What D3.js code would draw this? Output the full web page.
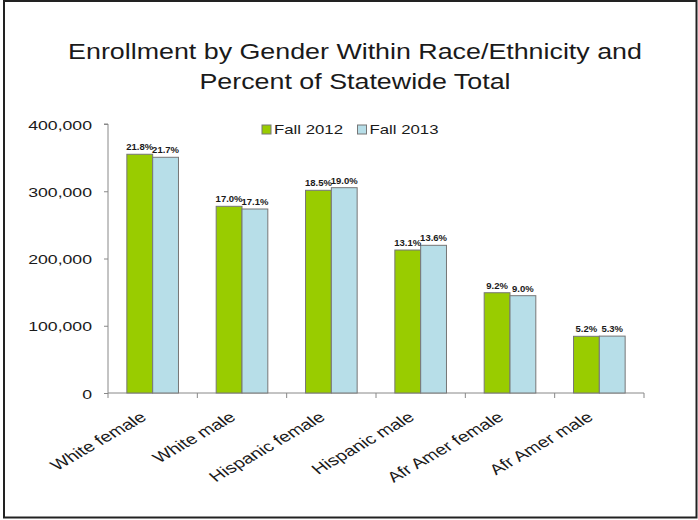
<!DOCTYPE html>
<html>
<head>
<meta charset="utf-8">
<script src="https://cdn.jsdelivr.net/npm/d3@7"></script>
<style>
  html, body { margin: 0; padding: 0; background: #fff; }
  svg { display: block; }
  text { font-family: "Liberation Sans", Arial, sans-serif; fill: #1a1a1a; }
</style>
</head>
<body>
<svg id="chart" width="698" height="520"></svg>
<script>
// ---- data ----
const categories = ["White female", "White male", "Hispanic female", "Hispanic male", "Afr Amer female", "Afr Amer male"];
const seriesNames = ["Fall 2012", "Fall 2013"];
const fall2012 = [355000, 277600, 301400, 212600, 149100, 84300];
const fall2013 = [350500, 273600, 305300, 219600, 144700, 84600];
const pct2012 = ["21.8%", "17.0%", "18.5%", "13.1%", "9.2%", "5.2%"];
const pct2013 = ["21.7%", "17.1%", "19.0%", "13.6%", "9.0%", "5.3%"];
const yTicks = [0, 100000, 200000, 300000, 400000];
const titleLines = ["Enrollment by Gender Within Race/Ethnicity and", "Percent of Statewide Total"];

const colors = { "Fall 2012": "#99CC00", "Fall 2013": "#B7DEE8" };

(function () {
const svg = d3.select("#chart");
const pLeft = 108, pRight = 644, pTop = 124, pBottom = 393;
const SX = 1.36; // horizontal stretch of the small text

// border
svg.append("rect")
  .attr("x", 4).attr("y", 1).attr("width", 692.5).attr("height", 516.5)
  .attr("fill", "none").attr("stroke", "#222").attr("stroke-width", 2);

// title
titleLines.forEach((t, i) => {
  svg.append("text")
    .attr("transform", `translate(355,${59 + i * 30}) scale(1.22,1)`)
    .attr("text-anchor", "middle")
    .style("font-size", "22px")
    .text(t);
});

// scales
const x = d3.scaleBand().domain(categories).range([pLeft, pRight]).padding(0);
const xs = d3.scaleBand().domain(seriesNames).range([0, x.bandwidth()]).paddingInner(0).paddingOuter(0.73);
const y = d3.scaleLinear().domain([0, 400000]).range([pBottom, pTop]);

// y axis
const yAxis = svg.append("g").attr("transform", `translate(${pLeft},0)`)
  .call(d3.axisLeft(y).tickValues(yTicks).tickFormat(d3.format(",")).tickSize(4).tickPadding(0));
yAxis.select(".domain").attr("stroke", "#888").attr("d", `M-4,${pTop}H0V${pBottom}`);
yAxis.selectAll(".tick line").attr("stroke", "#888");
yAxis.selectAll(".tick text").each(function () {
  d3.select(this)
   .attr("x", null).attr("dy", null)
   .attr("transform", `translate(-16,5) scale(${SX},1)`)
   .attr("text-anchor", "end")
   .style("font-size", "13px")
   .style("font-family", "'Liberation Sans', Arial, sans-serif")
   .attr("fill", "#1a1a1a");
});

// x axis line with boundary ticks
const xg = svg.append("g");
xg.append("line").attr("x1", pLeft).attr("x2", pRight).attr("y1", pBottom).attr("y2", pBottom)
  .attr("stroke", "#888");
const bounds = categories.map(c => x(c)).concat([x(categories[categories.length - 1]) + x.bandwidth()]);
xg.selectAll("line.tk").data(bounds).enter().append("line").attr("class", "tk")
  .attr("x1", d => d).attr("x2", d => d).attr("y1", pBottom).attr("y2", pBottom + 5)
  .attr("stroke", "#888");

// category labels (rotated)
categories.forEach(c => {
  const cx = x(c) + x.bandwidth() / 2;
  svg.append("text")
    .attr("transform", `translate(${cx - 5},419) scale(${SX},1) rotate(-38)`)
    .attr("text-anchor", "end")
    .style("font-size", "14.5px")
    .text(c);
});

// bars
const rows = [];
categories.forEach((c, i) => {
  rows.push({ cat: c, s: "Fall 2012", v: fall2012[i], p: pct2012[i] });
  rows.push({ cat: c, s: "Fall 2013", v: fall2013[i], p: pct2013[i] });
});
svg.append("g").selectAll("rect").data(rows).enter().append("rect")
  .attr("x", d => x(d.cat) + xs(d.s))
  .attr("y", d => y(d.v))
  .attr("width", xs.bandwidth())
  .attr("height", d => pBottom - y(d.v))
  .attr("fill", d => colors[d.s])
  .attr("stroke", "#777").attr("stroke-width", 1);

// data labels
svg.append("g").selectAll("text").data(rows).enter().append("text")
  .attr("transform", d => `translate(${x(d.cat) + xs(d.s) + xs.bandwidth() / 2},${y(d.v) - 4}) scale(1.12,1)`)
  .attr("text-anchor", "middle")
  .style("font-size", "8.5px").style("font-weight", "bold")
  .text(d => d.p);

// legend
const lg = svg.append("g");
const legendX = [262, 357.5];
seriesNames.forEach((s, i) => {
  lg.append("rect").attr("x", legendX[i]).attr("y", 125).attr("width", 9).attr("height", 9)
    .attr("fill", colors[s]).attr("stroke", "#777").attr("stroke-width", 1);
  lg.append("text")
    .attr("transform", `translate(${legendX[i] + 12},134) scale(1.4,1)`)
    .style("font-size", "12px")
    .text(s);
});
})();
</script>
</body>
</html>
